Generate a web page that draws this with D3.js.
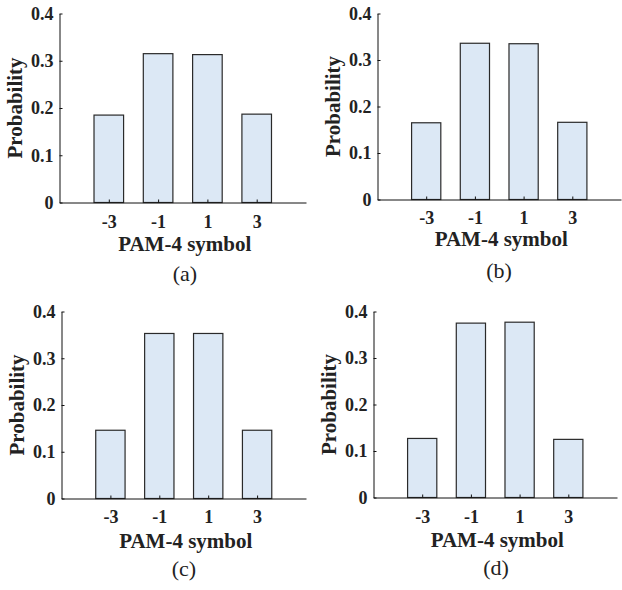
<!DOCTYPE html>
<html>
<head>
<meta charset="utf-8">
<script src="https://cdn.jsdelivr.net/npm/d3@7"></script>
<style>
  body { margin: 0; background: #fff; }
  svg { display: block; }
  text { font-family: "Liberation Serif", "Times New Roman", serif; fill: #222; }
</style>
</head>
<body>
<script>
// Data
const symbols = [-3, -1, 1, 3];
const probA = [0.185, 0.315, 0.313, 0.187];
const probB = [0.165, 0.336, 0.335, 0.166];
const probC = [0.146, 0.353, 0.353, 0.146];
const probD = [0.127, 0.375, 0.377, 0.125];
const yTicks = [0, 0.1, 0.2, 0.3, 0.4];
const captions = ["(a)", "(b)", "(c)", "(d)"];

// Panel frames (axes area in page px)
const panels = [
  { values: probA, left: 59.5, right: 306, top: 13.5, bottom: 202.5, tickY: 228, labelY: 251, capY: 281, capX: 185 },
  { values: probB, left: 377.5, right: 621, top: 13.5, bottom: 199.5, tickY: 224, labelY: 246, capY: 278, capX: 499 },
  { values: probC, left: 61.5, right: 306, top: 311.5, bottom: 498.5, tickY: 523, labelY: 548, capY: 576, capX: 184 },
  { values: probD, left: 373.5, right: 617, top: 311.5, bottom: 497.5, tickY: 523, labelY: 547, capY: 575, capX: 496 }
];

const svg = d3.select("body").append("svg")
  .attr("width", 622)
  .attr("height", 590);

panels.forEach((p, i) => {
  const g = svg.append("g");

  const x = d3.scaleLinear().domain([-5, 5]).range([p.left, p.right]);
  const y = d3.scaleLinear().domain([0, 0.4]).range([p.bottom, p.top]);
  const barW = x(0.6) - x(-0.6);

  // Bars
  g.selectAll("rect")
    .data(p.values)
    .enter()
    .append("rect")
    .attr("x", (d, j) => x(symbols[j]) - barW / 2)
    .attr("y", d => y(d))
    .attr("width", barW)
    .attr("height", d => y(0) - y(d))
    .attr("fill", "#dce8f5")
    .attr("stroke", "#2a2a2a")
    .attr("stroke-width", 1.2);

  // Y axis
  const yAxis = d3.axisLeft(y)
    .tickValues(yTicks)
    .tickSizeInner(-3)
    .tickSizeOuter(0)
    .tickPadding(6)
    .tickFormat(d => d === 0 ? "0" : d3.format(".1f")(d));
  const ya = g.append("g").attr("transform", `translate(${p.left},0)`).call(yAxis);

  // X axis
  const xAxis = d3.axisBottom(x)
    .tickValues(symbols)
    .tickSizeInner(-3)
    .tickSizeOuter(0)
    .tickFormat(d => String(d));
  const xa = g.append("g").attr("transform", `translate(0,${p.bottom})`).call(xAxis);

  [ya, xa].forEach(a => {
    a.select(".domain").attr("stroke", "#111").attr("stroke-width", 1);
    a.selectAll(".tick line").attr("stroke", "#111");
    a.selectAll(".tick text")
      .attr("font-family", "Liberation Serif")
      .attr("font-weight", "bold")
      .attr("font-size", 18)
      .attr("fill", "#222");
  });
  xa.selectAll(".tick text").attr("dy", null).attr("y", p.tickY - p.bottom);

  // Axis titles
  g.append("text")
    .attr("x", (p.left + p.right) / 2 + 2)
    .attr("y", p.labelY)
    .attr("text-anchor", "middle")
    .attr("font-weight", "bold")
    .attr("font-size", 21)
    .text("PAM-4 symbol");

  g.append("text")
    .attr("transform", `translate(${p.left - 38},${(p.top + p.bottom) / 2}) rotate(-90)`)
    .attr("text-anchor", "middle")
    .attr("font-weight", "bold")
    .attr("font-size", 21)
    .text("Probability");

  // Caption
  g.append("text")
    .attr("x", p.capX)
    .attr("y", p.capY)
    .attr("text-anchor", "middle")
    .attr("font-size", 22)
    .text(captions[i]);
});
</script>
</body>
</html>
